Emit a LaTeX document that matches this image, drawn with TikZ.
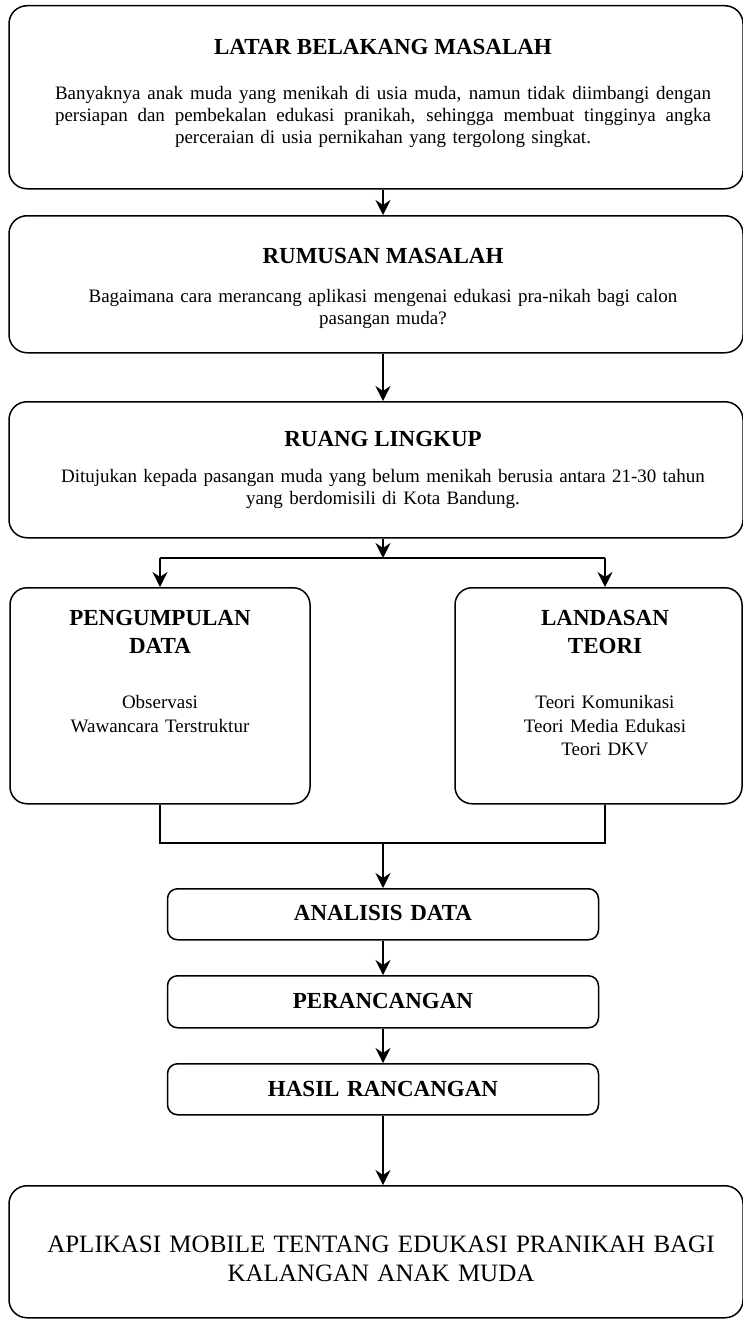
\documentclass[tikz,border=0pt]{standalone}
\usepackage{fontspec}
\setmainfont{Liberation Serif}
\usetikzlibrary{arrows.meta}

\begin{document}
\begin{tikzpicture}[x=1pt, y=-1pt, >={Stealth[length=15pt,width=15pt,inset=5pt]}, line width=1.5pt,
  nudge/.style={execute at begin node={\leftskip=#1 plus 1fil\rightskip=0pt plus 1fil\parfillskip=0pt\relax}},
  bigbox/.style={draw, rounded corners=18pt, anchor=north, inner sep=0pt, minimum width=734pt, text width=671pt, align=center, nudge=14pt, font=\fontsize{19}{22}\selectfont},
  sidebox/.style={draw, rounded corners=17pt, anchor=north, inner sep=0pt, text width=260pt, align=center, nudge=0pt, font=\fontsize{19}{23.5}\selectfont},
  stepbox/.style={draw, rounded corners=10pt, anchor=north, inner sep=0pt, minimum width=431pt, text width=420pt, align=center, nudge=0pt, font=\bfseries\fontsize{23}{28}\selectfont},
  head/.style={align=center, font=\bfseries\fontsize{23}{28}\selectfont}]

  \useasboundingbox (0,0) rectangle (743,1319);

  \node[bigbox, text height=94pt, text depth=89pt] (lat) at (376,5) {\leavevmode\hbox to 656pt{\spaceskip=.25em plus 1em\relax Banyaknya anak muda yang menikah di usia muda, namun tidak diimbangi dengan}\par \leavevmode\hbox to 656pt{\spaceskip=.25em plus 1em\relax persiapan dan pembekalan edukasi pranikah, sehingga membuat tingginya angka}\par perceraian di usia pernikahan yang tergolong singkat.};
  \node[head] (latT) at (383,47) {LATAR BELAKANG MASALAH};

  \node[bigbox, text height=87pt, text depth=50pt] (rum) at (376,215) {Bagaimana cara merancang aplikasi mengenai edukasi pra-nikah bagi calon\par pasangan muda?};
  \node[head] (rumT) at (383,256) {RUMUSAN MASALAH};

  \node[bigbox, text height=81pt, text depth=55pt] (rua) at (376,401) {Ditujukan kepada pasangan muda yang belum menikah berusia antara 21-30 tahun\par yang berdomisili di Kota Bandung.};
  \node[head] (ruaT) at (383,439) {RUANG LINGKUP};

  \node[sidebox, minimum width=300pt, text height=121pt, text depth=95pt] (pen) at (160,587) {Observasi\par Wawancara Terstruktur};
  \node[head] (penT) at (160,632) {PENGUMPULAN\\DATA};
  \node[sidebox, minimum width=287pt, nudge=13pt, text height=121pt, text depth=95pt] (lan) at (598.5,587) {Teori Komunikasi\par Teori Media Edukasi\par Teori DKV};
  \node[head] (lanT) at (605,632) {LANDASAN\\TEORI};

  \node[stepbox, text height=32pt, text depth=19pt] (ana) at (383,888) {ANALISIS DATA};
  \node[stepbox, text height=33pt, text depth=19pt] (per) at (383,975) {PERANCANGAN};
  \node[stepbox, text height=33pt, text depth=18pt] (has) at (383,1063) {HASIL RANCANGAN};

  \node[bigbox, text width=700pt, nudge=10pt, font=\fontsize{25}{29}\selectfont, text height=67pt, text depth=65pt] (apl) at (376,1185) {APLIKASI MOBILE TENTANG EDUKASI PRANIKAH BAGI\par KALANGAN ANAK MUDA};

  \coordinate (fork) at (383,558);
  \coordinate (join) at (383,843);

  \draw[->] (lat.south -| ana.north) -- (rum.north -| ana.north);
  \draw[->] (rum.south -| ana.north) -- (rua.north -| ana.north);
  \draw[->] (rua.south -| fork) -- (fork);
  \draw (pen.north |- fork) -- (lanT |- fork);
  \draw[->] (pen.north |- fork) -- (pen.north);
  \draw[->] (lanT |- fork) -- (lan.north -| lanT);
  \draw (pen.south) |- (join) -| (lan.south -| lanT);
  \draw[->] (join) -- (ana.north);
  \draw[->] (ana.south) -- (per.north);
  \draw[->] (per.south) -- (has.north);
  \draw[->] (has.south) -- (apl.north -| has.south);

\end{tikzpicture}
\end{document}
